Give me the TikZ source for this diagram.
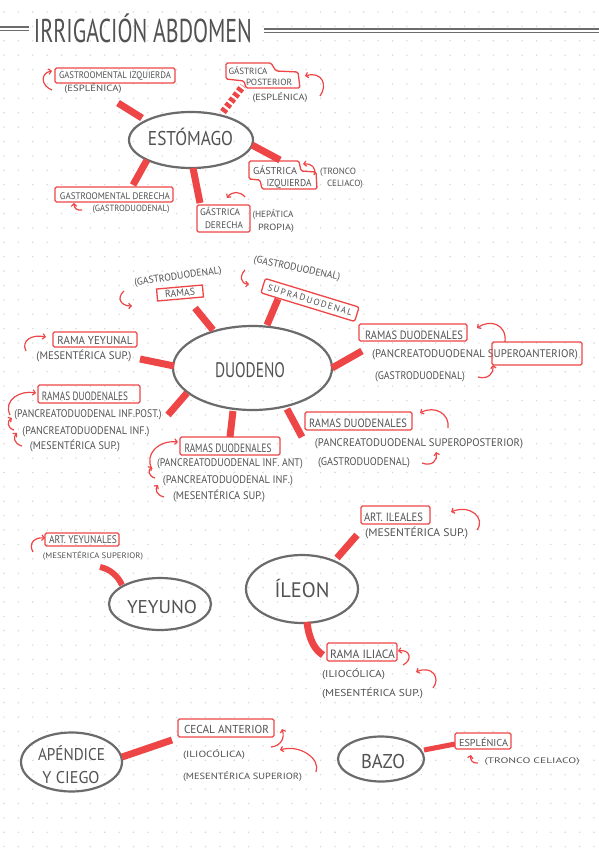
\documentclass[tikz,border=0pt]{standalone}
\usepackage{fontspec}
\usepackage{graphicx}
\setmainfont{PT Sans}
\newfontfamily\spaced[LetterSpace=16]{PT Sans}
\usetikzlibrary{arrows.meta}
\definecolor{ink}{HTML}{525252}
\definecolor{rd}{HTML}{EE4646}
\definecolor{elc}{HTML}{6B6B6B}
\definecolor{dotc}{HTML}{D6D6D6}
\newcommand\fw[2]{\resizebox{#1pt}{\height}{#2}}
\begin{document}
\begin{tikzpicture}[x=1pt,y=-1pt,
  tx/.style={anchor=base,inner sep=0pt,text=ink},
  txc/.style={inner sep=0pt,text=ink},
  sz/.style={font=\fontsize{#1}{#1}\selectfont},
  rbox/.style={draw=rd,line width=1.3,rounded corners=1.5},
  spoke/.style={draw=rd,line width=7,line cap=butt},
  arr/.style={draw=rd,line width=1.2,-{Straight Barb[length=2.5pt,width=5.5pt]}},
  elly/.style={draw=elc,line width=2.2},
  tline/.style={draw=ink!85,line width=1.6}]
\useasboundingbox (0,0) rectangle (599,848);
\fill[white] (0,0) rectangle (599,848);
% dot grid
\foreach \i in {0,...,41}{\foreach \j in {0,...,58}{\fill[dotc] (4+14.39*\i,12+14.39*\j) circle (0.8);}}

% ---------- title ----------
\node[tx,sz=33] (title) at (143,43) {\fw{218}{IRRIGACIÓN ABDOMEN}};
\coordinate (tl1a) at (0,27);   \coordinate (tl1b) at (29,27);
\coordinate (tl2a) at (0,30.5); \coordinate (tl2b) at (29,30.5);
\coordinate (tr1a) at (264,29); \coordinate (tr1b) at (599,29);
\coordinate (tr2a) at (264,32.5); \coordinate (tr2b) at (599,32.5);
\draw[tline] (tl1a) -- (tl1b); \draw[tline] (tl2a) -- (tl2b);
\draw[tline] (tr1a) -- (tr1b); \draw[tline] (tr2a) -- (tr2b);

% ---------- ESTOMAGO ----------
\draw[elly] (191,140) ellipse [x radius=62,y radius=28];
\node[tx,sz=20] (est) at (190.5,145) {\fw{85}{ESTÓMAGO}};
\coordinate (s1a) at (118,103); \coordinate (s1b) at (142,118);
\coordinate (s2a) at (223,112); \coordinate (s2b) at (243,86);
\coordinate (s3a) at (252,145); \coordinate (s3b) at (280,160);
\coordinate (s4a) at (193,168); \coordinate (s4b) at (200,203);
\coordinate (s5a) at (147,160); \coordinate (s5b) at (133,185);
\draw[spoke] (s1a) -- (s1b);
\draw[spoke,dash pattern=on 4pt off 2.5pt] (s2a) -- (s2b);
\draw[spoke] (s3a) -- (s3b);
\draw[spoke] (s4a) -- (s4b);
\draw[spoke] (s5a) -- (s5b);

\draw[rbox] (55,68) rectangle (175,83);
\node[tx,sz=9.5] (goi) at (115,79) {\fw{112}{GASTROOMENTAL IZQUIERDA}};
\node[tx,sz=9] (goip) at (93,92) {\fw{57}{(ESPLÉNICA)}};
\coordinate (a1s) at (52,90); \coordinate (a1e) at (52,71);
\draw[arr] (a1s) .. controls (41,86) and (40,73) .. (a1e);

\draw[rbox] (226,63) -- (271,63) -- (276,71) -- (298,72) -- (300,88) -- (246,88) -- (244,81) -- (226,79) -- cycle;
\node[tx,sz=9] (gp1) at (248,75) {\fw{39}{GÁSTRICA}};
\node[tx,sz=9] (gp2) at (269,86) {\fw{46}{POSTERIOR}};
\node[tx,sz=9] (gpp) at (280,101) {\fw{55}{(ESPLÉNICA)}};
\coordinate (a2s) at (320,96); \coordinate (a2e) at (305,76);
\draw[arr] (a2s) .. controls (328,85) and (322,71) .. (a2e);

\draw[rbox] (249,161) -- (299,161) -- (301,171) -- (316,172) -- (317,189) -- (262,189) -- (260,180) -- (249,179) -- cycle;
\node[tx,sz=10] (gi1) at (275,174) {\fw{44}{GÁSTRICA}};
\node[tx,sz=10] (gi2) at (289,186) {\fw{45}{IZQUIERDA}};
\node[tx,sz=9] (gi3) at (338,174) {\fw{36}{(TRONCO}};
\node[tx,sz=9] (gi4) at (345,186) {\fw{36}{CELIACO)}};
\coordinate (a3s) at (314,175); \coordinate (a3e) at (303,164);
\draw[arr] (a3s) .. controls (317,168) and (311,163) .. (a3e);

\draw[rbox] (197,205) rectangle (250,232);
\node[tx,sz=9.5] (gd1) at (220,215) {\fw{40}{GÁSTRICA}};
\node[tx,sz=9.5] (gd2) at (224,228) {\fw{38}{DERECHA}};
\node[tx,sz=9] (gd3) at (273,217) {\fw{41}{(HEPÁTICA}};
\node[tx,sz=9] (gd4) at (276,230) {\fw{36}{PROPIA)}};
\coordinate (a4s) at (245,197); \coordinate (a4e) at (227,198);
\draw[arr] (a4s) .. controls (240,191) and (232,191) .. (a4e);

\draw[rbox] (55,187) rectangle (173,202);
\node[tx,sz=9.5] (god) at (115,199) {\fw{110}{GASTROOMENTAL DERECHA}};
\node[tx,sz=9] (godp) at (131,211) {\fw{77}{(GASTRODUODENAL)}};
\coordinate (a5s) at (82,210); \coordinate (a5e) at (74,203);
\draw[arr] (a5s) .. controls (77,211) and (74,208) .. (a5e);

% ---------- DUODENO ----------
\draw[elly] (252.5,368) ellipse [x radius=79.5,y radius=42];
\node[tx,sz=21] (duo) at (250,377) {\fw{70}{DUODENO}};
\coordinate (t1a) at (195,308); \coordinate (t1b) at (213,330);
\coordinate (t2a) at (278,299); \coordinate (t2b) at (267,325);
\coordinate (t3a) at (140,359); \coordinate (t3b) at (174,366);
\coordinate (t4a) at (168,415); \coordinate (t4b) at (187,393);
\coordinate (t5a) at (233,411); \coordinate (t5b) at (230,437);
\coordinate (t6a) at (287,409); \coordinate (t6b) at (302,437);
\coordinate (t7a) at (332,368); \coordinate (t7b) at (362,351);
\foreach \k in {1,...,7}{\draw[spoke] (t\k a) -- (t\k b);}

\node[txc,sz=10,rotate=8] (g1) at (178,277) {\fw{88}{(GASTRODUODENAL)}};
\node[txc,sz=10,rotate=5,draw=rd,line width=1.3,minimum width=46,minimum height=12] (ramas) at (180,293) {\fw{30}{RAMAS}};
\coordinate (b1s) at (124,291); \coordinate (b1e) at (132,306);
\draw[arr] (b1s) .. controls (116,298) and (121,306) .. (b1e);

\node[txc,sz=10,rotate=-12] (g2) at (297,269) {\fw{88}{(GASTRODUODENAL)}};
\node[txc,rotate=-17,draw=rd,line width=1.3,rounded corners=2,minimum width=98,minimum height=15] (supra) at (310,300) {};
\node[txc,font=\spaced\fontsize{9}{9}\selectfont,rotate=-17] (supraT) at (310,300) {SUPRADUODENAL};
\coordinate (b2s) at (245,270); \coordinate (b2e) at (249,284);
\draw[arr] (b2s) .. controls (239,276) and (241,284) .. (b2e);

\draw[rbox] (53,332) rectangle (137,347);
\node[tx,sz=11.5] (ry) at (95,344) {\fw{75}{RAMA YEYUNAL}};
\node[tx,sz=11] (ryp) at (84,359) {\fw{95}{(MESENTÉRICA SUP.)}};
\coordinate (b3s) at (26,351); \coordinate (b3e) at (46,337);
\draw[arr] (b3s) .. controls (21,341) and (31,334) .. (b3e);

\draw[rbox] (38,385) rectangle (140,403);
\node[tx,sz=12] (rd1) at (85,400) {\fw{86}{RAMAS DUODENALES}};
\node[tx,sz=11] (rd1a) at (88,417) {\fw{147}{(PANCREATODUODENAL INF.POST.)}};
\node[tx,sz=11] (rd1b) at (86,434) {\fw{127}{(PANCREATODUODENAL INF.)}};
\node[tx,sz=11] (rd1c) at (75,449) {\fw{90}{(MESENTÉRICA SUP.)}};
\coordinate (b4s) at (10,415); \coordinate (b4e) at (36,393);
\draw[arr] (b4s) .. controls (3,400) and (20,390) .. (b4e);
\coordinate (b5s) at (14,430); \coordinate (b5e) at (12,418);
\draw[arr] (b5s) .. controls (7,428) and (7,421) .. (b5e);
\coordinate (b6s) at (22,446); \coordinate (b6e) at (17,433);
\draw[arr] (b6s) .. controls (14,444) and (13,437) .. (b6e);

\draw[rbox] (180,437) rectangle (280,455);
\node[tx,sz=12] (rd2) at (228,452) {\fw{87}{RAMAS DUODENALES}};
\node[tx,sz=11] (rd2a) at (230,466) {\fw{146}{(PANCREATODUODENAL INF. ANT)}};
\node[tx,sz=11] (rd2b) at (228,483) {\fw{130}{(PANCREATODUODENAL INF.)}};
\node[tx,sz=11] (rd2c) at (219,499) {\fw{92}{(MESENTÉRICA SUP.)}};
\coordinate (b7s) at (152,469); \coordinate (b7e) at (178,442);
\draw[arr] (b7s) .. controls (144,455) and (158,440) .. (b7e);
\coordinate (b8s) at (155,478); \coordinate (b8e) at (152,467);
\draw[arr] (b8s) .. controls (148,476) and (148,470) .. (b8e);
\coordinate (b9s) at (164,497); \coordinate (b9e) at (158,485);
\draw[arr] (b9s) .. controls (156,495) and (155,489) .. (b9e);

\draw[rbox] (359,324) rectangle (467,341);
\node[tx,sz=12] (rd3) at (414,339) {\fw{98}{RAMAS DUODENALES}};
\node[tx,sz=11] (rd3a) at (475,357) {\fw{206}{(PANCREATODUODENAL SUPEROANTERIOR)}};
\draw[rbox] (492,342) rectangle (582,365);
\node[tx,sz=11] (rd3b) at (420,379) {\fw{90}{(GASTRODUODENAL)}};
\coordinate (b10s) at (505,342); \coordinate (b10e) at (477,328);
\draw[arr] (b10s) .. controls (507,324) and (490,319) .. (b10e);
\coordinate (b11s) at (478,377); \coordinate (b11e) at (493,365);
\draw[arr] (b11s) .. controls (488,380) and (494,373) .. (b11e);

\draw[rbox] (305,412) rectangle (412,430);
\node[tx,sz=12] (rd4) at (358,427) {\fw{98}{RAMAS DUODENALES}};
\node[tx,sz=11] (rd4a) at (419,446) {\fw{208}{(PANCREATODUODENAL SUPEROPOSTERIOR)}};
\node[tx,sz=11] (rd4b) at (364,465) {\fw{92}{(GASTRODUODENAL)}};
\coordinate (b12s) at (448,428); \coordinate (b12e) at (420,413);
\draw[arr] (b12s) .. controls (450,414) and (435,405) .. (b12e);
\coordinate (b13s) at (422,463); \coordinate (b13e) at (436,452);
\draw[arr] (b13s) .. controls (432,467) and (438,460) .. (b13e);

% ---------- YEYUNO ----------
\draw[elly] (160,604) ellipse [x radius=51,y radius=26];
\node[tx,sz=18.5] (yey) at (162,613) {\fw{70}{YEYUNO}};
\coordinate (u1a) at (100,567); \coordinate (u1b) at (122,585);
\draw[spoke,line width=6] (u1a) .. controls (110,569) and (118,576) .. (u1b);
\draw[rbox] (45,533) rectangle (119,546);
\node[tx,sz=11] (ay) at (83,543) {\fw{68}{ART. YEYUNALES}};
\node[tx,sz=8] (ayp) at (93,558) {\fw{100}{(MESENTÉRICA SUPERIOR)}};
\coordinate (c1s) at (33,552); \coordinate (c1e) at (45,538);
\draw[arr] (c1s) .. controls (28,543) and (35,537) .. (c1e);

% ---------- ILEON ----------
\draw[elly] (302,589) ellipse [x radius=56,y radius=34];
\node[tx,sz=21] (ile) at (302,597) {\fw{55}{ÍLEON}};
\coordinate (u2a) at (337,558); \coordinate (u2b) at (357,535);
\draw[spoke] (u2a) -- (u2b);
\coordinate (u3a) at (307,622); \coordinate (u3b) at (323,655);
\draw[spoke] (u3a) .. controls (309,640) and (315,650) .. (u3b);
\draw[rbox] (361,506) rectangle (430,524);
\node[tx,sz=12] (ai) at (393.5,521) {\fw{59}{ART. ILEALES}};
\node[tx,sz=11] (aip) at (416.5,536) {\fw{103}{(MESENTÉRICA SUP.)}};
\coordinate (c2s) at (477,530); \coordinate (c2e) at (451,512);
\draw[arr] (c2s) .. controls (486,518) and (470,504) .. (c2e);
\draw[rbox] (327,643) rectangle (397,661);
\node[tx,sz=12] (ri) at (362.5,658) {\fw{65}{RAMA ILIACA}};
\node[tx,sz=10] (ri1) at (353.5,677) {\fw{63}{(ILIOCÓLICA)}};
\node[tx,sz=10] (ri2) at (372.5,696) {\fw{101}{(MESENTÉRICA SUP.)}};
\coordinate (c3s) at (403,665); \coordinate (c3e) at (398,651);
\draw[arr] (c3s) .. controls (413,660) and (410,649) .. (c3e);
\coordinate (c4s) at (433,688); \coordinate (c4e) at (416,672);
\draw[arr] (c4s) .. controls (441,678) and (432,665) .. (c4e);

% ---------- APENDICE Y CIEGO ----------
\draw[elly] (71.5,762) ellipse [x radius=50.5,y radius=29.5];
\node[tx,sz=17] (ap1) at (71.5,760) {\fw{67}{APÉNDICE}};
\node[tx,sz=17] (ap2) at (71,783) {\fw{57}{Y CIEGO}};
\coordinate (v1a) at (122,757); \coordinate (v1b) at (172,740);
\draw[spoke] (v1a) -- (v1b);
\draw[rbox] (178,719) rectangle (274,737);
\node[tx,sz=11.5] (ca) at (226.5,733) {\fw{85}{CECAL ANTERIOR}};
\node[tx,sz=9] (ca1) at (214,757) {\fw{62}{(ILIOCÓLICA)}};
\node[tx,sz=9] (ca2) at (242.5,779) {\fw{119}{(MESENTÉRICA SUPERIOR)}};
\coordinate (d1s) at (271,747); \coordinate (d1e) at (282,729);
\draw[arr] (d1s) .. controls (281,746) and (285,738) .. (d1e);
\coordinate (d2s) at (316,772); \coordinate (d2e) at (280,750);
\draw[arr] (d2s) .. controls (321,759) and (300,744) .. (d2e);

% ---------- BAZO ----------
\draw[elly] (381,759) ellipse [x radius=43,y radius=22.5];
\node[tx,sz=20] (baz) at (383,768) {\fw{44}{BAZO}};
\coordinate (v2a) at (424,750); \coordinate (v2b) at (455,744);
\draw[spoke,line width=5] (v2a) -- (v2b);
\draw[rbox] (455,733) rectangle (511,749);
\node[tx,sz=10] (es) at (483.5,746) {\fw{49}{ESPLÉNICA}};
\node[tx,sz=8] (esp) at (532,763) {\fw{95}{(TRONCO CELIACO)}};
\coordinate (d3s) at (478,763); \coordinate (d3e) at (471,755);
\draw[arr] (d3s) .. controls (472,764) and (470,759) .. (d3e);
\end{tikzpicture}
\end{document}
